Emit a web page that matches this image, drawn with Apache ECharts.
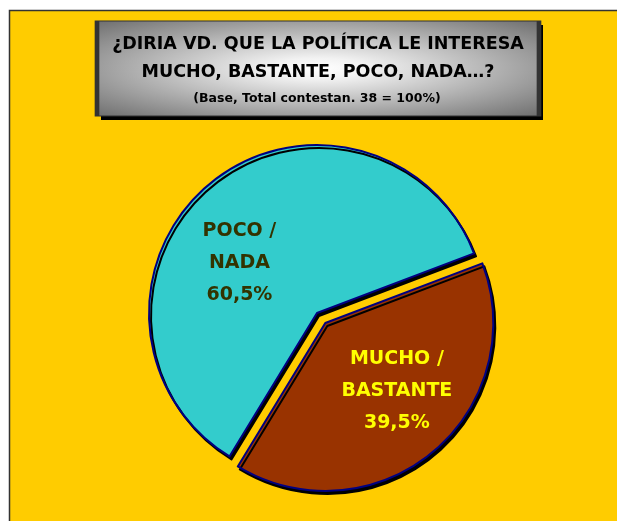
<!DOCTYPE html>
<html>
<head>
<meta charset="utf-8">
<script src="https://cdn.jsdelivr.net/npm/echarts@6/dist/echarts.min.js"></script>
<style>
html,body{margin:0;padding:0;background:#fff;}
#chart{width:617px;height:521px;}
</style>
</head>
<body>
<div id="chart"></div>
<script>
// ---- data ----
const categories = ['POCO /\nNADA', 'MUCHO /\nBASTANTE'];
const values = [60.5, 39.5];
const titleLines = ['¿DIRIA VD. QUE LA POLÍTICA LE INTERESA', 'MUCHO, BASTANTE, POCO, NADA…?'];
const subtitle = '(Base, Total contestan. 38 = 100%)';

// ---- styles ----
const sliceColors = ['#33CCCC', '#993300'];
const labelColors = ['#333300', '#FFFF00'];
const labelOffsets = [[-22, 17], [16, 1]];
const FONT = '"DejaVu Sans", sans-serif';

const chart = echarts.init(document.getElementById('chart'), null, {renderer: 'canvas'});

const pieData = categories.map((c, i) => ({
  name: c,
  value: values[i],
  selected: i === 1,
  itemStyle: {color: sliceColors[i]},
  label: {color: labelColors[i], offset: labelOffsets[i]},
  select: {label: {color: labelColors[i], offset: labelOffsets[i]}}
}));

// title box geometry
const BX = 97, BY = 21, BW = 442, BH = 95;

chart.setOption({
  animation: false,
  backgroundColor: '#ffffff',
  graphic: [
    {type: 'rect', z: -10, shape: {x: 9.5, y: 10.5, width: 620, height: 520},
     style: {fill: '#FFCC00', stroke: '#333333', lineWidth: 1.5}},
    // shadow of title box
    {type: 'rect', z: 9, shape: {x: BX + 4, y: BY + 4, width: BW, height: BH},
     style: {fill: '#000000'}},
    // title box: square with circular radial gradient, stretched horizontally
    {type: 'rect', z: 10, x: BX, y: BY, scaleX: BW / BH, scaleY: 1,
     shape: {x: 0, y: 0, width: BH, height: BH},
     style: {
       fill: new echarts.graphic.RadialGradient(0.5, 0.5, 0.72, [
         {offset: 0, color: '#ffffff'},
         {offset: 0.15, color: '#f2f2f2'},
         {offset: 1, color: '#6a6a6a'}
       ], false),
       stroke: '#333333', lineWidth: 1, strokeNoScale: true
     }},
    {type: 'text', z: 11, x: 318, y: 44,
     style: {text: titleLines[0], font: 'bold 17.5px ' + FONT, fill: '#000', align: 'center', verticalAlign: 'middle'}},
    {type: 'text', z: 11, x: 318, y: 72,
     style: {text: titleLines[1], font: 'bold 17.5px ' + FONT, fill: '#000', align: 'center', verticalAlign: 'middle'}},
    {type: 'text', z: 11, x: 317, y: 99,
     style: {text: subtitle, font: 'bold 12.5px ' + FONT, fill: '#000', align: 'center', verticalAlign: 'middle'}}
  ],
  series: [{
    type: 'pie',
    center: [317, 313],
    radius: [0, 168],
    startAngle: 238.6,
    clockwise: true,
    selectedMode: 'single',
    selectedOffset: 13,
    avoidLabelOverlap: false,
    emphasis: {disabled: true},
    itemStyle: {
      borderColor: '#000080', borderWidth: 2,
      shadowColor: '#000000', shadowBlur: 0, shadowOffsetX: 2, shadowOffsetY: 3
    },
    label: {
      show: true, position: 'inside',
      fontFamily: FONT, fontWeight: 'bold', fontSize: 19, lineHeight: 32,
      align: 'center',
      formatter: p => p.name + '\n' + String(p.value).replace('.', ',') + '%'
    },
    labelLine: {show: false},
    data: pieData
  }]
});
</script>
</body>
</html>
